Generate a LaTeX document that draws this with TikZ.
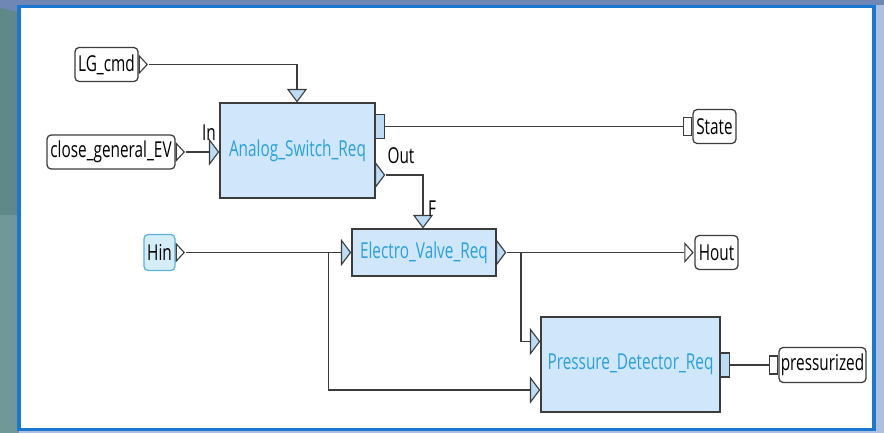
\documentclass[tikz,border=0pt]{standalone}
\usepackage{fontspec}
\setmainfont{Open Sans}[FakeStretch=0.7]
\usetikzlibrary{shapes.geometric,positioning,calc}

\definecolor{panelblue}{HTML}{1A78D0}
\definecolor{sideteal}{HTML}{5F8888}
\definecolor{sidetealb}{HTML}{709898}
\definecolor{topgray}{HTML}{6F87B5}
\definecolor{rightgray}{HTML}{AEC0E2}
\definecolor{linegray}{HTML}{3C3C3C}
\definecolor{blockfill}{HTML}{CFE6FB}
\definecolor{blocktext}{HTML}{2AA0DC}
\definecolor{portfill}{HTML}{BCDCF5}
\definecolor{hinborder}{HTML}{5AB4D8}
\definecolor{hinfill}{HTML}{D4EEF8}

\newcommand\diagfont{\fontsize{15.6}{18}\selectfont}

\begin{document}
\begin{tikzpicture}[
    x=0.025cm, y=-0.025cm,
    block/.style={rectangle, draw=linegray, fill=blockfill, line width=1.2pt, text=blocktext, font=\diagfont, inner sep=0pt},
    signal/.style={rectangle, rounded corners=3pt, draw=linegray, fill=white, line width=0.9pt, font=\diagfont, inner sep=0pt, minimum height=0.85cm},
    lbl/.style={font=\diagfont, inner sep=0pt},
    tri/.style={isosceles triangle, isosceles triangle stretches, draw=linegray, line width=0.8pt, inner sep=0pt},
    inport/.style={tri, fill=portfill, minimum width=0.6cm, minimum height=0.225cm, anchor=east},
    outport/.style={tri, fill=portfill, minimum width=0.6cm, minimum height=0.225cm, anchor=west},
    topport/.style={tri, fill=portfill, shape border rotate=270, minimum width=0.45cm, minimum height=0.3cm, anchor=south},
    sqport/.style={rectangle, draw=linegray, fill=portfill, line width=0.8pt, minimum width=0.225cm, minimum height=0.6cm, inner sep=0pt, anchor=west},
    sigout/.style={tri, fill=white, minimum width=0.43cm, minimum height=0.2cm, anchor=west},
    sigin/.style={tri, fill=white, minimum width=0.45cm, minimum height=0.2cm, anchor=east},
    sqin/.style={rectangle, draw=linegray, fill=white, line width=0.8pt, minimum width=0.2cm, minimum height=0.45cm, inner sep=0pt, anchor=east},
    wire/.style={draw=linegray, line width=1.15pt}
]
    \useasboundingbox (0,0) rectangle (884,433);

    % Window background
    \fill[rightgray] (0,0) rectangle (884,433);
    \fill[sidetealb] (0,0) rectangle (19,433);
    \fill[sideteal] (0,0) rectangle (19,215);
    \fill[topgray] (0,0) -- (884,0) -- (884,5) -- (19,5) -- (19,12) -- (0,8) -- cycle;
    \filldraw[fill=white, draw=panelblue, line width=2.8pt] (19,6.5) rectangle (874,429.5);

    % Blocks
    \node[block, minimum width=3.875cm, minimum height=2.375cm] (asr) at (297.5,150.5) {Analog\_Switch\_Req};
    \node[block, minimum width=3.6cm, minimum height=1.175cm] (evr) at (424,252.5) {Electro\_Valve\_Req};
    \node[block, minimum width=4.475cm, minimum height=2.375cm] (pdr) at (630.5,364.5) {Pressure\_Detector\_Req};

    % Block ports
    \node[inport] (asrin) at (220,152) {};
    \node[topport] (asrtop) at (297,103) {};
    \node[sqport] (asrst) at (375,126.5) {};
    \node[outport] (asrout) at (375,175) {};
    \node[inport] (evrin) at (352,252.5) {};
    \node[topport] (evrtop) at (423,229) {};
    \node[outport] (evrout) at (496,252.5) {};
    \node[inport] (pdrin) at (541,341.5) {};
    \node[inport] (pdrh) at (541,390) {};
    \node[sqport] (pdrst) at (720,365) {};

    % Port labels
    \node[lbl] (inlbl) at (209,133) {In};
    \node[lbl] (outlbl) at (401,156) {Out};
    \node[lbl] (flbl) at (432,209) {F};

    % Signals
    \node[signal, minimum width=1.575cm] (lgcmd) at (106.5,64.5) {LG\_cmd};
    \node[sigout] (lgcmdp) at (lgcmd.east) {};
    \node[signal, minimum width=3.2cm] (cgev) at (111,152) {close\_general\_EV};
    \node[sigout] (cgevp) at (cgev.east) {};
    \node[signal, minimum width=0.775cm, minimum height=0.9cm, draw=hinborder, fill=hinfill] (hin) at (159.5,252.5) {Hin};
    \node[sigout] (hinp) at (hin.east) {};
    \node[signal, minimum width=1.075cm] (state) at (714.5,126.5) {State};
    \node[sqin] (statep) at (state.west) {};
    \node[signal, minimum width=1.075cm] (hout) at (716.5,252.5) {Hout};
    \node[sigin] (houtp) at (hout.west) {};
    \node[signal, minimum width=2.175cm, minimum height=0.875cm] (press) at (822.5,365) {pressurized};
    \node[sqin] (pressp) at (press.west) {};

    % Wires
    \draw[wire] (lgcmdp.east) -| (asrtop.north);
    \draw[wire] (cgevp.east) -- (asrin.west);
    \draw[wire] (asrst.east) -- (statep.west);
    \draw[wire] (asrout.east) -| (evrtop.north);
    \draw[wire] (hinp.east) -- (evrin.west);
    \draw[wire] (evrout.east) -- (houtp.west);
    \draw[wire] ($(evrout.east)+(14,0)$) |- (pdrin.west);
    \draw[wire] ($(hinp.east)+(143,0)$) |- (pdrh.west);
    \draw[wire] (pdrst.east) -- (pressp.west);
\end{tikzpicture}
\end{document}
